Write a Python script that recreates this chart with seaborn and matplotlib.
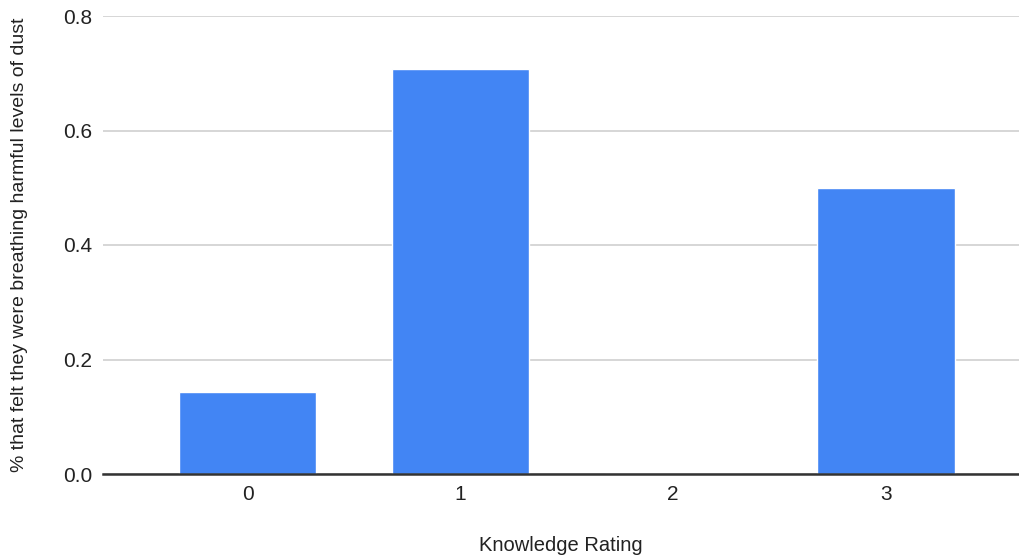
import matplotlib
matplotlib.use("Agg")
import matplotlib.pyplot as plt
import seaborn as sns
import pandas as pd

# Share of respondents who felt they were breathing harmful dust, by knowledge rating
ratings = ["0", "1", "2", "3"]
share_harmful = [0.143, 0.708, 0.0, 0.5]
y_ticks = [0.0, 0.2, 0.4, 0.6, 0.8]

df = pd.DataFrame({"rating": ratings, "share": share_harmful})

sns.set_theme(style="white")
plt.rcParams["font.family"] = ["Liberation Sans", "DejaVu Sans"]

fig = plt.figure(figsize=(10.19, 5.58), dpi=100)
ax = fig.add_axes([103 / 1019, 1 - 474 / 558, (1019 - 103) / 1019, (474 - 16) / 558])

sns.barplot(data=df, x="rating", y="share", color="#4285F4", saturation=1,
            width=0.645, ax=ax, zorder=3)

ax.set_ylim(0, 0.8)
ax.set_xlim(-0.68, 3.625)
ax.set_yticks(y_ticks)
ax.set_yticklabels([f"{v:.1f}" for v in y_ticks])
ax.yaxis.grid(True, color="#cccccc", linewidth=1.1, zorder=0)
ax.xaxis.grid(False)

for side in ["top", "right", "left"]:
    ax.spines[side].set_visible(False)
ax.spines["bottom"].set_color("#333333")
ax.spines["bottom"].set_linewidth(1.8)
ax.spines["bottom"].set_zorder(4)

ax.tick_params(axis="both", length=0, labelsize=15, colors="#222222")
ax.tick_params(axis="x", pad=8)
ax.tick_params(axis="y", pad=8)

ax.set_xlabel("Knowledge Rating", fontsize=14.5, color="#222222")
ax.xaxis.set_label_coords(0.5, -(536 - 474) / 458)
ax.set_ylabel("% that felt they were breathing harmful levels of dust",
              fontsize=14, color="#222222")
ax.yaxis.set_label_coords(-(103 - 28) / 916, 0.5)

fig.savefig("out.png", dpi=100)
